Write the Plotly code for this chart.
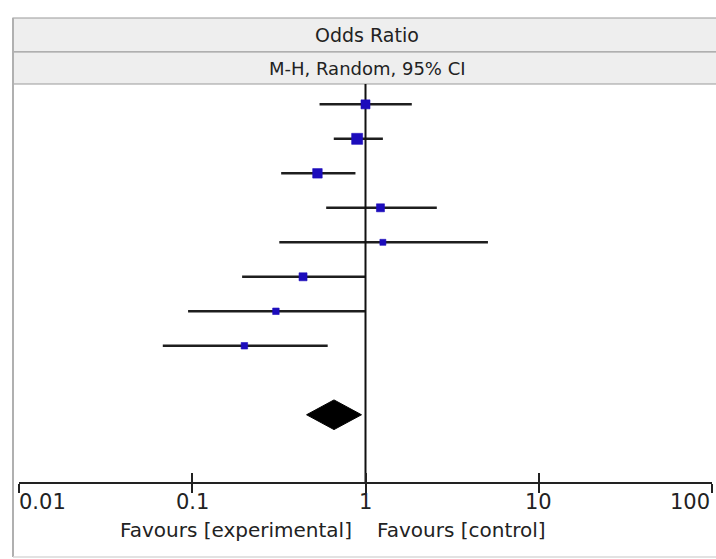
import numpy as np
import plotly.graph_objects as go

# ---- data ----
row_pos = [1, 2, 3, 4, 5, 6, 7, 8]
odds_ratio = [1.00, 0.895, 0.528, 1.22, 1.26, 0.436, 0.304, 0.200]
ci_lower = [0.543, 0.656, 0.326, 0.593, 0.318, 0.194, 0.0946, 0.0676]
ci_upper = [1.85, 1.26, 0.875, 2.58, 5.09, 1.0, 1.0, 0.605]
marker_sizes = [9, 11, 9.5, 8, 6, 8, 6.5, 6.5]

pooled_row = 10
pooled_or = 0.658
pooled_lower = 0.457
pooled_upper = 0.948

tick_values = [0.01, 0.1, 1, 10, 100]
tick_labels = ["0.01", "0.1", "1", "10", "100"]

header_title = "Odds Ratio"
header_sub = "M-H, Random, 95% CI"
favours_left = "Favours [experimental]"
favours_right = "Favours [control]"

# ---- layout geometry ----
W, H = 716, 559
L, R, T, B = 19, 4, 84, 77
plot_w = W - L - R
plot_h = H - T - B


def px_x(px):
    return (px - L) / plot_w


def px_y(py):
    return (H - B - py) / plot_h


FONT = "DejaVu Sans"
TEXT = "#222222"

fig = go.Figure()

# CI lines
xs, ys = [], []
for y, lo, hi in zip(row_pos, ci_lower, ci_upper):
    xs += [lo, hi, None]
    ys += [y, y, None]
fig.add_trace(go.Scatter(x=xs, y=ys, mode="lines",
                         line=dict(color="#1e1e1e", width=2.5),
                         hoverinfo="skip", showlegend=False))

# line of no effect
fig.add_trace(go.Scatter(x=[1, 1], y=[0.41, 11.95], mode="lines",
                         line=dict(color="#111111", width=2),
                         hoverinfo="skip", showlegend=False))

# study estimates
fig.add_trace(go.Scatter(x=odds_ratio, y=row_pos, mode="markers",
                         marker=dict(symbol="square", size=marker_sizes,
                                     color="#1c0cbc", opacity=1,
                                     line=dict(width=0.6, color="#1c0cbc")),
                         showlegend=False))

# pooled diamond
half_h = 0.43
fig.add_trace(go.Scatter(
    x=[pooled_lower, pooled_or, pooled_upper, pooled_or, pooled_lower],
    y=[pooled_row, pooled_row - half_h, pooled_row, pooled_row + half_h, pooled_row],
    mode="lines", fill="toself", fillcolor="#000000",
    line=dict(color="#000000", width=1), showlegend=False, hoverinfo="skip"))

# invisible trace for the overlay axis (inside ticks)
fig.add_trace(go.Scatter(x=[1], y=[1], xaxis="x2", mode="markers",
                         marker=dict(opacity=0), showlegend=False, hoverinfo="skip"))

axis_common = dict(type="log", range=[-2, 2], tickvals=tick_values,
                   showticklabels=False, showgrid=False, zeroline=False,
                   tickcolor="#222222", tickwidth=2, ticklen=9)

fig.update_layout(
    width=W, height=H,
    margin=dict(l=L, r=R, t=T, b=B, pad=0),
    paper_bgcolor="white", plot_bgcolor="white",
    xaxis=dict(**axis_common, ticks="outside", showline=True,
               linecolor="#222222", linewidth=2),
    xaxis2=dict(**axis_common, ticks="inside", showline=False,
                overlaying="x", anchor="y", side="bottom"),
    yaxis=dict(range=[11.95, 0.41], visible=False, showgrid=False,
               zeroline=False),
    font=dict(family=FONT, color=TEXT),
)

# header boxes
shapes = []
for y0, y1 in [(18, 52), (52, 84)]:
    shapes.append(dict(type="rect", xref="paper", yref="paper",
                       x0=px_x(13), x1=px_x(717), y0=px_y(y1), y1=px_y(y0),
                       fillcolor="#eeeeee", line=dict(color="#9a9a9a", width=1.2),
                       layer="below"))
# outer frame left and bottom edges
shapes.append(dict(type="line", xref="paper", yref="paper",
                   x0=px_x(13), x1=px_x(13), y0=px_y(557), y1=px_y(18),
                   line=dict(color="#b0b0b0", width=2)))
shapes.append(dict(type="line", xref="paper", yref="paper",
                   x0=px_x(13), x1=px_x(717), y0=px_y(557), y1=px_y(557),
                   line=dict(color="#d8d8d8", width=1.5)))
fig.update_layout(shapes=shapes)

annotations = [
    dict(text=header_title, xref="paper", yref="paper", x=px_x(367), y=px_y(35),
         xanchor="center", yanchor="middle", showarrow=False,
         font=dict(size=19, family=FONT, color=TEXT)),
    dict(text=header_sub, xref="paper", yref="paper", x=px_x(367), y=px_y(68),
         xanchor="center", yanchor="middle", showarrow=False,
         font=dict(size=18, family=FONT, color=TEXT)),
    dict(text=favours_left, xref="paper", yref="paper", x=px_x(354), y=px_y(530),
         xanchor="right", yanchor="middle", showarrow=False,
         font=dict(size=20, family=FONT, color=TEXT)),
    dict(text=favours_right, xref="paper", yref="paper", x=px_x(375), y=px_y(530),
         xanchor="left", yanchor="middle", showarrow=False,
         font=dict(size=20, family=FONT, color=TEXT)),
]
for i, (v, lab) in enumerate(zip(tick_values, tick_labels)):
    anchor = "left" if i == 0 else ("right" if i == len(tick_values) - 1 else "center")
    annotations.append(dict(text=lab, xref="x", yref="paper", x=np.log10(v),
                            y=px_y(502), xanchor=anchor, yanchor="middle",
                            showarrow=False, xshift=(-2 if i == 0 else 0),
                            font=dict(size=21, family=FONT, color=TEXT)))
fig.update_layout(annotations=annotations)

fig.write_html("out.html",
               config={"displayModeBar": False, "staticPlot": True},
               post_script="document.body.style.margin='0px';"
                           "document.body.style.overflow='hidden';")
